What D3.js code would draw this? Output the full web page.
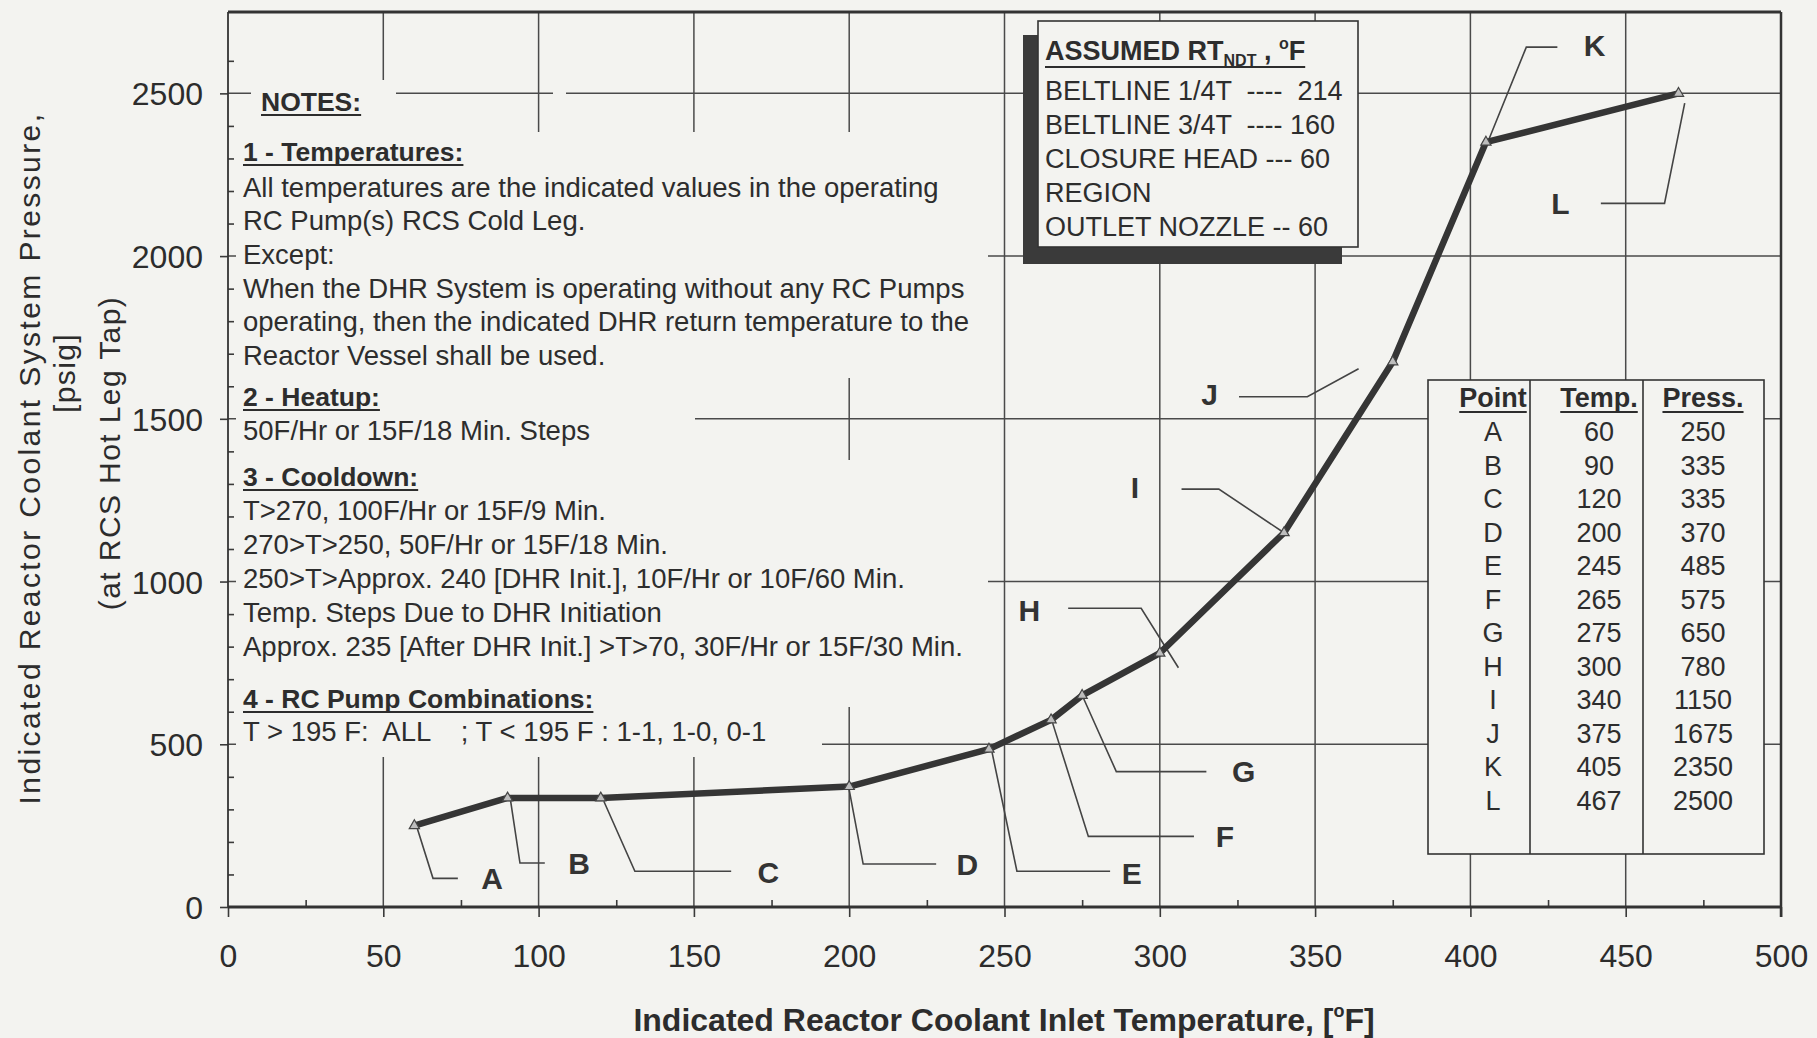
<!DOCTYPE html>
<html lang="en">
<head>
<meta charset="UTF-8">
<title>RCS Pressure / Temperature Limits</title>
<script src="https://cdn.jsdelivr.net/npm/d3@7"></script>
<style>
  body { margin: 0; background: #f3f3f0; }
  svg { display: block; font-family: Arial, "Liberation Sans", sans-serif; }
  text { white-space: pre; }
  .tick text { font-size: 32px; fill: #2c2c2c; }
  .tick line { stroke: #3a3a3a; stroke-width: 1.6; }
  .domain { display: none; }
  .grid line { stroke: #4a4a4a; stroke-width: 1.5; }
  .note { font-size: 27.5px; fill: #2d2d2d; }
  .note.head { font-weight: bold; font-size: 26.5px; }
  .callout { font-size: 30px; font-weight: bold; fill: #333; }
  .leader { fill: none; stroke: #444; stroke-width: 1.6; }
  .box-text { font-size: 27px; fill: #2d2d2d; }
</style>
</head>
<body>
<svg id="chart" width="1817" height="1038"></svg>
<script>
// data: curve points
const pointNames = ["A", "B", "C", "D", "E", "F", "G", "H", "I", "J", "K", "L"];
const temps = [60, 90, 120, 200, 245, 265, 275, 300, 340, 375, 405, 467];
const pressures = [250, 335, 335, 370, 485, 575, 650, 780, 1150, 1675, 2350, 2500];

const xTicks = [0, 50, 100, 150, 200, 250, 300, 350, 400, 450, 500];
const yTicks = [0, 500, 1000, 1500, 2000, 2500];
const xMinor = d3.range(25, 500, 50);
const yMinor = d3.range(100, 2700, 100).filter(v => v % 500 !== 0);

// callouts: label spot and leader path, both in chart units (degF, psig)
const callouts = [
  { name: "A", label: [85, 88],    path: [[61, 240], [66, 88], [74, 88]] },
  { name: "B", label: [113, 135],  path: [[91, 325], [94, 135], [102, 135]] },
  { name: "C", label: [174, 108],  path: [[121, 325], [131, 110], [162, 110]] },
  { name: "D", label: [238, 132],  path: [[200, 360], [204.5, 132], [228, 132]] },
  { name: "E", label: [291, 106],  path: [[246, 475], [254, 110], [284, 110]] },
  { name: "F", label: [321, 217],  path: [[265.5, 565], [277, 217], [311, 217]] },
  { name: "G", label: [327, 418],  path: [[275.5, 640], [286, 416], [315, 416]] },
  { name: "H", label: [258, 914],  path: [[270.5, 918], [294, 918], [306, 735]] },
  { name: "I", label: [292, 1290], path: [[307, 1284], [319, 1284], [340, 1150]] },
  { name: "J", label: [316, 1575], path: [[325.5, 1568], [347.5, 1568], [364, 1654]] },
  { name: "K", label: [440, 2650], path: [[428, 2642], [418, 2642], [406, 2360]] },
  { name: "L", label: [429, 2162], path: [[442, 2162], [462.5, 2162], [469, 2470]] }
];

const rtTitle = "ASSUMED RT";
const rtLines = ["BELTLINE 1/4T  ----  214", "BELTLINE 3/4T  ---- 160", "CLOSURE HEAD --- 60", "REGION", "OUTLET NOZZLE -- 60"];

const noteLines = [
  { t: "NOTES:", head: true, x: 261, y: 102 },
  { t: "1 - Temperatures:", head: true, y: 152 },
  { t: "All temperatures are the indicated values in the operating", y: 188 },
  { t: "RC Pump(s) RCS Cold Leg.", y: 221 },
  { t: "Except:", y: 255 },
  { t: "When the DHR System is operating without any RC Pumps", y: 289 },
  { t: "operating, then the indicated DHR return temperature to the", y: 322 },
  { t: "Reactor Vessel shall be used.", y: 356 },
  { t: "2 - Heatup:", head: true, y: 397 },
  { t: "50F/Hr or 15F/18 Min. Steps", y: 431 },
  { t: "3 - Cooldown:", head: true, y: 477 },
  { t: "T>270, 100F/Hr or 15F/9 Min.", y: 511 },
  { t: "270>T>250, 50F/Hr or 15F/18 Min.", y: 545 },
  { t: "250>T>Approx. 240 [DHR Init.], 10F/Hr or 10F/60 Min.", y: 579 },
  { t: "Temp. Steps Due to DHR Initiation", y: 613 },
  { t: "Approx. 235 [After DHR Init.] >T>70, 30F/Hr or 15F/30 Min.", y: 647 },
  { t: "4 - RC Pump Combinations:", head: true, y: 699 },
  { t: "T > 195 F:  ALL    ; T < 195 F : 1-1, 1-0, 0-1", y: 732 }
];

const W = 1817, H = 1038;
const margin = { top: 12, right: 36, bottom: 131, left: 228 };
const svg = d3.select("#chart");

const x = d3.scaleLinear().domain([0, 500]).range([margin.left, W - margin.right]);
const y = d3.scaleLinear().domain([0, 2750]).range([H - margin.bottom, margin.top]);

// gridlines
const grid = svg.append("g").attr("class", "grid");
grid.selectAll(".v").data(xTicks.slice(1, -1)).enter().append("line")
  .attr("x1", d => x(d)).attr("x2", d => x(d))
  .attr("y1", y(2750)).attr("y2", y(0));
grid.selectAll(".h").data(yTicks.slice(1)).enter().append("line")
  .attr("x1", x(0)).attr("x2", x(500))
  .attr("y1", d => y(d)).attr("y2", d => y(d));

// the note blocks sit on top of the grid and hide parts of it
const bg = "#f3f3f0";
const masks = [
  [251, 80, 396, 132],
  [553, 86, 566, 100],
  [236, 132, 988, 378],
  [236, 378, 695, 460],
  [236, 460, 988, 707],
  [236, 707, 822, 757]
];
svg.append("g").selectAll("rect").data(masks).enter().append("rect")
  .attr("x", d => d[0]).attr("y", d => d[1])
  .attr("width", d => d[2] - d[0]).attr("height", d => d[3] - d[1])
  .attr("fill", bg);

// axes
svg.append("g").attr("transform", `translate(0,${y(0)})`)
  .call(d3.axisBottom(x).tickValues(xTicks).tickSize(10).tickPadding(27));
svg.append("g").attr("transform", `translate(0,${y(0)})`)
  .call(d3.axisBottom(x).tickValues(xMinor).tickSize(-7).tickFormat(""));
const yAxis = svg.append("g").attr("transform", `translate(${x(0)},0)`)
  .call(d3.axisLeft(y).tickValues(yTicks).tickSize(8).tickPadding(17).tickFormat(d3.format("d")));
svg.append("g").attr("transform", `translate(${x(0)},0)`)
  .call(d3.axisLeft(y).tickValues(yMinor).tickSize(-6).tickFormat(""));
yAxis.selectAll(".tick text").attr("dy", "0.36em");

// frame
const frame = svg.append("g").attr("stroke", "#333").attr("fill", "none");
frame.append("line").attr("x1", x(0)).attr("x2", x(500)).attr("y1", y(2750)).attr("y2", y(2750)).attr("stroke-width", 3);
frame.append("line").attr("x1", x(500)).attr("x2", x(500)).attr("y1", y(2750)).attr("y2", y(0) + 10).attr("stroke-width", 2.5);
frame.append("line").attr("x1", x(0)).attr("x2", x(0)).attr("y1", y(2750)).attr("y2", y(0)).attr("stroke-width", 1.8);
frame.append("line").attr("x1", x(0)).attr("x2", x(500)).attr("y1", y(0)).attr("y2", y(0)).attr("stroke-width", 3);

// notes
const notes = svg.append("g");
noteLines.forEach(n => {
  const nx = n.x || 243;
  const tx = notes.append("text").attr("class", n.head ? "note head" : "note")
    .attr("x", nx).attr("y", n.y + 9).text(n.t);
  if (n.head) {
    const len = tx.node().getComputedTextLength();
    notes.append("line").attr("x1", nx).attr("x2", nx + len)
      .attr("y1", n.y + 13).attr("y2", n.y + 13).attr("stroke", "#2d2d2d").attr("stroke-width", 2);
  }
});

// RT_NDT box with its dark shadow
const rt = svg.append("g");
rt.append("rect").attr("x", 1023).attr("y", 35).attr("width", 15).attr("height", 229).attr("fill", "#3a3a3a");
rt.append("rect").attr("x", 1023).attr("y", 247).attr("width", 319).attr("height", 17).attr("fill", "#3a3a3a");
rt.append("rect").attr("x", 1038).attr("y", 21).attr("width", 320).attr("height", 226)
  .attr("fill", bg).attr("stroke", "#333").attr("stroke-width", 1.6);
const title = rt.append("text").attr("class", "box-text").attr("x", 1045).attr("y", 60).attr("font-weight", "bold");
title.append("tspan").text(rtTitle);
title.append("tspan").attr("font-size", 16).attr("dy", 6).text("NDT");
title.append("tspan").attr("dy", -6).text(" , ");
title.append("tspan").attr("font-size", 16).attr("dy", -11).text("o");
title.append("tspan").attr("dy", 11).text("F");
const tLen = title.node().getComputedTextLength();
rt.append("line").attr("x1", 1045).attr("x2", 1045 + tLen).attr("y1", 67).attr("y2", 67)
  .attr("stroke", "#2d2d2d").attr("stroke-width", 2);
rt.selectAll(".rl").data(rtLines).enter().append("text").attr("class", "box-text")
  .attr("x", 1045).attr("y", (d, i) => 100 + i * 34).text(d => d);

// table of points
const tb = svg.append("g");
tb.append("rect").attr("x", 1428).attr("y", 380).attr("width", 336).attr("height", 474)
  .attr("fill", bg).attr("stroke", "#333").attr("stroke-width", 1.6);
[1530, 1643].forEach(cx => tb.append("line").attr("x1", cx).attr("x2", cx).attr("y1", 380).attr("y2", 854)
  .attr("stroke", "#333").attr("stroke-width", 1.6));
const cols = [1493, 1599, 1703];
["Point", "Temp.", "Press."].forEach((h, i) => {
  const t = tb.append("text").attr("class", "box-text").attr("font-weight", "bold")
    .attr("text-anchor", "middle").attr("x", cols[i]).attr("y", 407).text(h);
  const w = t.node().getComputedTextLength();
  tb.append("line").attr("x1", cols[i] - w / 2).attr("x2", cols[i] + w / 2).attr("y1", 412).attr("y2", 412)
    .attr("stroke", "#2d2d2d").attr("stroke-width", 2);
});
const rows = pointNames.map((p, i) => [p, temps[i], pressures[i]]);
rows.forEach((r, i) => {
  r.forEach((v, j) => tb.append("text").attr("class", "box-text").attr("text-anchor", "middle")
    .attr("font-size", 28).attr("x", cols[j]).attr("y", 441 + i * 33.5).text(v));
});

// leader lines and callout letters
const lead = d3.line().x(d => x(d[0])).y(d => y(d[1]));
svg.append("g").selectAll("path").data(callouts).enter().append("path")
  .attr("class", "leader").attr("d", d => lead(d.path));
svg.append("g").selectAll("text").data(callouts).enter().append("text")
  .attr("class", "callout").attr("text-anchor", "middle")
  .attr("x", d => x(d.label[0])).attr("y", d => y(d.label[1]) + 11).text(d => d.name);

// the limit curve
const pts = temps.map((t, i) => [t, pressures[i]]);
svg.append("path").datum(pts)
  .attr("d", d3.line().x(d => x(d[0])).y(d => y(d[1])))
  .attr("fill", "none").attr("stroke", "#353535").attr("stroke-width", 6.5).attr("stroke-linejoin", "round");
svg.append("g").selectAll("path").data(pts).enter().append("path")
  .attr("transform", d => `translate(${x(d[0])},${y(d[1])})`)
  .attr("d", d3.symbol(d3.symbolTriangle).size(45))
  .attr("fill", "#bdbdbd").attr("stroke", "#444").attr("stroke-width", 1.2);

// axis titles
const xt = svg.append("text").attr("x", 1004).attr("y", 1031).attr("text-anchor", "middle")
  .attr("font-size", 32).attr("font-weight", "bold").attr("fill", "#2c2c2c");
xt.append("tspan").text("Indicated Reactor Coolant Inlet Temperature, [");
xt.append("tspan").attr("font-size", 18).attr("dy", -14).text("o");
xt.append("tspan").attr("dy", 14).text("F]");

const yTitle = [
  { t: "Indicated Reactor Coolant System Pressure,", x: 40, y: 458, ls: 2.4 },
  { t: "[psig]", x: 75, y: 373, ls: 1.4 },
  { t: "(at RCS Hot Leg Tap)", x: 120, y: 453, ls: 1.4 }
];
svg.append("g").selectAll("text").data(yTitle).enter().append("text")
  .attr("transform", d => `translate(${d.x},${d.y}) rotate(-90)`)
  .attr("text-anchor", "middle").attr("font-size", 30).attr("letter-spacing", d => d.ls)
  .attr("fill", "#2c2c2c").text(d => d.t);
</script>
</body>
</html>
